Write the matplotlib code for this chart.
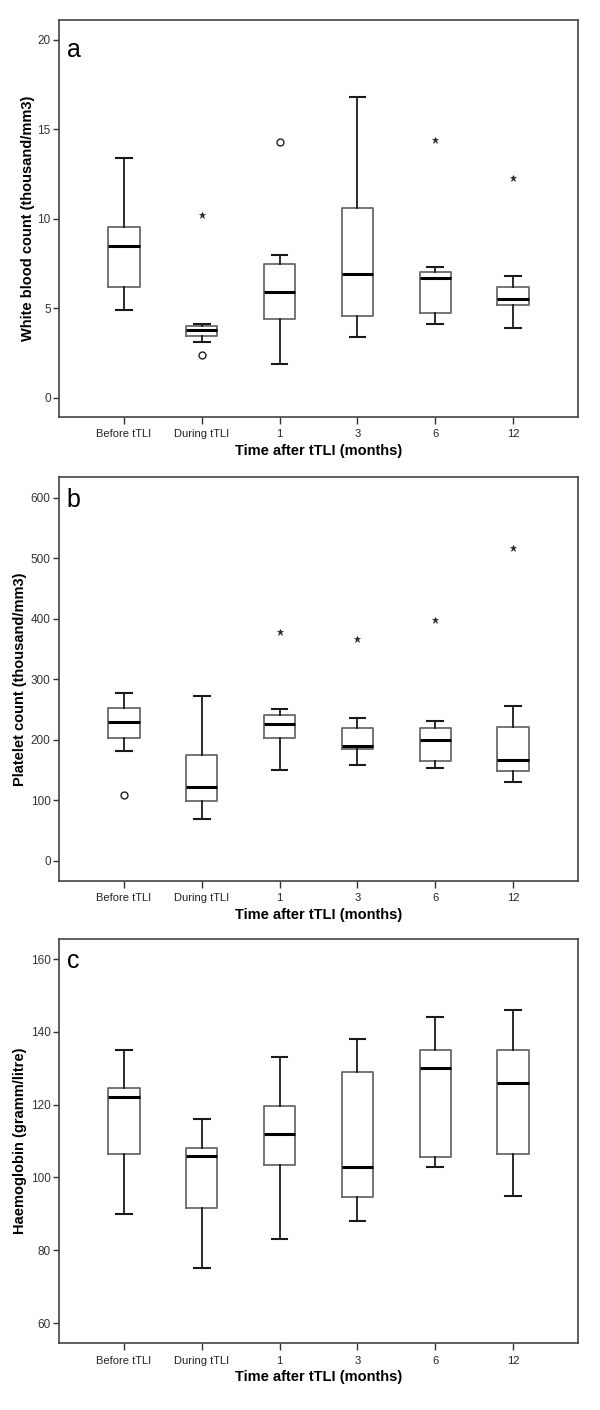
import matplotlib
matplotlib.use('Agg')
import matplotlib.pyplot as plt

categories = ['Before tTLI', 'During tTLI', '1', '3', '6', '12']

# white blood count (thousand/mm3): low whisker, Q1, median, Q3, high whisker
wbc_low = [4.9, 3.1, 1.9, 3.4, 4.1, 3.9]
wbc_q1 = [6.2, 3.45, 4.4, 4.6, 4.75, 5.2]
wbc_med = [8.5, 3.8, 5.9, 6.9, 6.7, 5.5]
wbc_q3 = [9.55, 4.0, 7.45, 10.6, 7.05, 6.2]
wbc_high = [13.4, 4.1, 8.0, 16.8, 7.3, 6.8]
wbc_circles = [[], [2.4], [14.3], [], [], []]
wbc_stars = [[], [10.2], [], [], [14.4], [12.3]]

# platelet count (thousand/mm3)
plt_low = [182, 68, 149, 158, 153, 130]
plt_q1 = [203, 98, 203, 184, 164, 148]
plt_med = [229, 121, 225, 189, 200, 167]
plt_q3 = [252, 175, 240, 220, 219, 221]
plt_high = [277, 272, 251, 235, 231, 255]
plt_circles = [[108], [], [], [], [], []]
plt_stars = [[], [], [378], [366], [398], [517]]

# haemoglobin (gramm/litre)
hb_low = [90, 75, 83, 88, 103, 95]
hb_q1 = [106.5, 91.5, 103.5, 94.5, 105.5, 106.5]
hb_med = [122, 106, 112, 103, 130, 126]
hb_q3 = [124.5, 108, 119.5, 129, 135, 135]
hb_high = [135, 116, 133, 138, 144, 146]
hb_circles = [[], [], [], [], [], []]
hb_stars = [[], [], [], [], [], []]

narrow = ['Liberation Sans Narrow', 'Liberation Sans', 'DejaVu Sans']
bold = ['Liberation Sans', 'DejaVu Sans']

fig = plt.figure(figsize=(6, 14.1), dpi=100)

panels = [
    ('a', 'White blood count (thousand/mm3)', [0, 5, 10, 15, 20], (-1.06, 21.1),
     wbc_low, wbc_q1, wbc_med, wbc_q3, wbc_high, wbc_circles, wbc_stars,
     [0.0983, 0.7043, 0.865, 0.2816], -0.046, 0.907),
    ('b', 'Platelet count (thousand/mm3)', [0, 100, 200, 300, 400, 500, 600], (-33.6, 634),
     plt_low, plt_q1, plt_med, plt_q3, plt_high, plt_circles, plt_stars,
     [0.0983, 0.3752, 0.865, 0.2865], -0.062, 0.926),
    ('c', 'Haemoglobin (gramm/litre)', [60, 80, 100, 120, 140, 160], (54.5, 165.5),
     hb_low, hb_q1, hb_med, hb_q3, hb_high, hb_circles, hb_stars,
     [0.0983, 0.0475, 0.865, 0.2865], -0.062, 0.928),
]

for letter, ylabel, yticks, ylim, low, q1, med, q3, high, circ, stars, pos, lx, ly in panels:
    ax = fig.add_axes(pos)
    stats = []
    for i in range(len(categories)):
        stats.append({'whislo': low[i], 'q1': q1[i], 'med': med[i], 'q3': q3[i],
                      'whishi': high[i], 'fliers': []})
    xs = list(range(1, len(categories) + 1))
    ax.bxp(stats, positions=xs, widths=0.4, capwidths=0.2, showfliers=False,
           boxprops=dict(color='#6a6a6a', linewidth=1.3),
           whiskerprops=dict(color='#1a1a1a', linewidth=1.3),
           capprops=dict(color='#1a1a1a', linewidth=1.5),
           medianprops=dict(color='#000000', linewidth=2.2))
    for i, x in enumerate(xs):
        if circ[i]:
            ax.plot([x] * len(circ[i]), circ[i], 'o', mfc='white', mec='#222222',
                    ms=5, mew=1.0)
        if stars[i]:
            ax.plot([x] * len(stars[i]), stars[i], '*', color='#222222', ms=5, mew=0.4)
    ax.set_xlim(0.165, 6.835)
    ax.set_ylim(*ylim)
    ax.set_yticks(yticks)
    ax.set_yticklabels([str(t) for t in yticks], family=narrow, fontsize=8.5, color='#333333')
    ax.set_xticks(xs)
    ax.set_xticklabels(categories, family=narrow, fontsize=8, color='#222222')
    ax.tick_params(axis='both', direction='out', length=4, width=1.0, color='#333333', pad=2)
    ax.tick_params(axis='x', length=5, pad=4)
    for sp in ax.spines.values():
        sp.set_color('#444444')
        sp.set_linewidth(1.2)
    ax.set_ylabel(ylabel, family=bold, fontweight='bold', fontsize=10.5)
    ax.yaxis.set_label_coords(lx, 0.5)
    ax.set_xlabel('Time after tTLI (months)', family=bold, fontweight='bold', fontsize=10.5,
                  labelpad=3)
    ax.text(0.015, ly, letter, transform=ax.transAxes, fontsize=18, va='baseline',
            ha='left', family=bold)

fig.savefig('out.png', dpi=100)
